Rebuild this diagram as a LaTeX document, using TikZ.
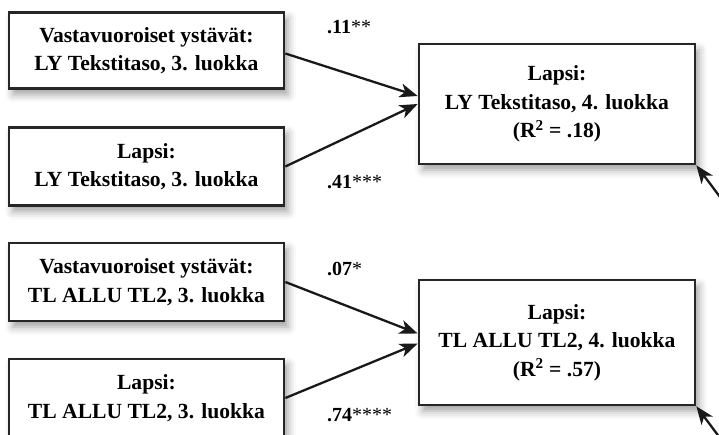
\documentclass[tikz,border=0pt]{standalone}
\usepackage{fontspec}
\setmainfont{Liberation Serif}
\usetikzlibrary{arrows.meta,shadows.blur}

\tikzset{
  varbox/.style={draw=black!85, line width=2.7pt, fill=white, align=center,
    font=\bfseries\fontsize{21.6}{28.5}\selectfont, inner sep=0pt,
    minimum width=275pt,
    blur shadow={shadow xshift=4pt, shadow yshift=-6pt, shadow blur radius=8pt, shadow opacity=38}},
  effect/.style={line width=2.3pt, draw=black!90,
    -{Stealth[length=18pt, width=14pt, inset=5pt]}},
  coef/.style={anchor=base west, inner sep=0pt, font=\fontsize{20}{22}\selectfont}
}

\begin{document}
\begin{tikzpicture}[x=1pt, y=-1pt]
  \useasboundingbox (0,0) rectangle (719,435);
  \clip (0,0) rectangle (719,435);

  % predictors, upper model
  \node[varbox, minimum height=76pt] (pf1) at (146.5,50.5)
    {Vastavuoroiset ystävät:\\LY Tekstitaso, 3. luokka};
  \node[varbox, minimum height=78pt] (pc1) at (146.5,166.5)
    {Lapsi:\\LY Tekstitaso, 3. luokka};
  % outcome, upper model
  \node[varbox, minimum width=276pt, minimum height=120pt] (out1) at (557,104)
    {Lapsi:\\LY Tekstitaso, 4. luokka\\(R\textsuperscript{2} = .18)};

  % predictors, lower model
  \node[varbox, minimum height=78pt] (pf2) at (146.5,282)
    {Vastavuoroiset ystävät:\\TL ALLU TL2, 3. luokka};
  \node[varbox, minimum height=78pt] (pc2) at (146.5,398)
    {Lapsi:\\TL ALLU TL2, 3. luokka};
  % outcome, lower model
  \node[varbox, minimum width=276pt, minimum height=125pt] (out2) at (557,342.5)
    {Lapsi:\\TL ALLU TL2, 4. luokka\\(R\textsuperscript{2} = .57)};

  % error terms entering from the right
  \coordinate (e1) at (735,217);
  \coordinate (e2) at (735,458);

  % paths
  \draw[effect] ([yshift=-3pt]pf1.east) -- ([yshift=8pt]out1.west);
  \draw[effect] (pc1.east) -- (out1.west);
  \draw[effect] (e1) -- (out1.south east);

  \draw[effect] (pf2.east) -- ([yshift=9pt]out2.west);
  \draw[effect] (pc2.east) -- ([yshift=-1pt]out2.west);
  \draw[effect] (e2) -- (out2.south east);

  % coefficients
  \node[coef] (c1) at (327,34) {\textbf{.11}**};
  \node[coef] (c2) at (327,189) {\textbf{.41}***};
  \node[coef] (c3) at (327,276) {\textbf{.07}*};
  \node[coef] (c4) at (327,421) {\textbf{.74}****};
\end{tikzpicture}
\end{document}
